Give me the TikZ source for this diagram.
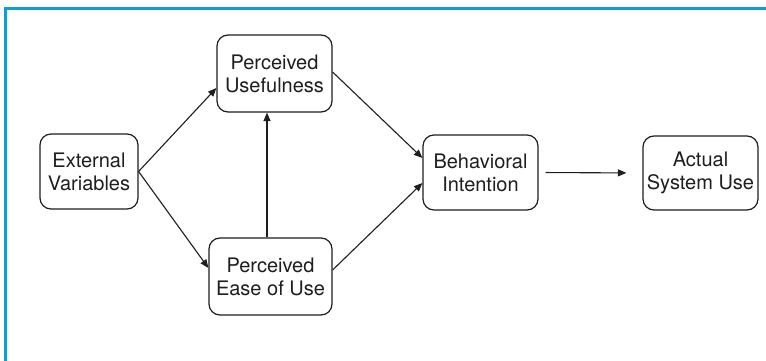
\documentclass[tikz,border=0pt]{standalone}
\usepackage{fontspec}
\setmainfont{TeX Gyre Heros}
\usetikzlibrary{arrows.meta}
\definecolor{framecol}{RGB}{8,160,214}
\definecolor{inkcol}{RGB}{30,30,30}
\begin{document}
\begin{tikzpicture}[x=1pt,y=-1pt,
  box/.style={draw=inkcol,line width=1.2pt,rounded corners=11pt,align=center,
    inner sep=0pt,font=\fontsize{20}{23}\selectfont,text=inkcol},
  arr/.style={draw=inkcol,line width=1.1pt,-{Triangle[length=8.5pt,width=7pt]}}]
\useasboundingbox (0,0) rectangle (766,361);
\fill[white] (0,0) rectangle (766,361);
\draw[framecol,line width=3.2pt] (5.5,361) -- (5.5,8.5) -- (766,8.5);
\node[box,minimum width=98pt,minimum height=75pt] (EV) at (89,171.5) {External\\Variables};
\node[box,minimum width=115pt,minimum height=77pt] (PU) at (274.5,73.5) {Perceived\\Usefulness};
\node[box,minimum width=123pt,minimum height=77pt] (PEU) at (270.5,276.5) {Perceived\\Ease of Use};
\node[box,minimum width=115pt,minimum height=75pt] (BI) at (480.5,172.5) {Behavioral\\Intention};
\node[box,minimum width=115pt,minimum height=74pt] (ASU) at (700.5,173) {Actual\\System Use};
\draw[arr] (EV.east) -- ([yshift=-14.5pt]PU.west);
\draw[arr] (EV.east) -- ([yshift=8.5pt]PEU.west);
\draw[arr] ([xshift=-3.5pt]PEU.north) -- ([xshift=-3.5pt]PEU.north |- PU.south);
\draw[arr] ([yshift=1.5pt]PU.east) -- ([yshift=14.5pt]BI.west);
\draw[arr] ([yshift=6.5pt]PEU.east) -- ([yshift=-10.5pt]BI.west);
\draw[arr,shorten <=7pt,shorten >=16pt] (BI.east) -- (ASU.west);
\end{tikzpicture}
\end{document}
